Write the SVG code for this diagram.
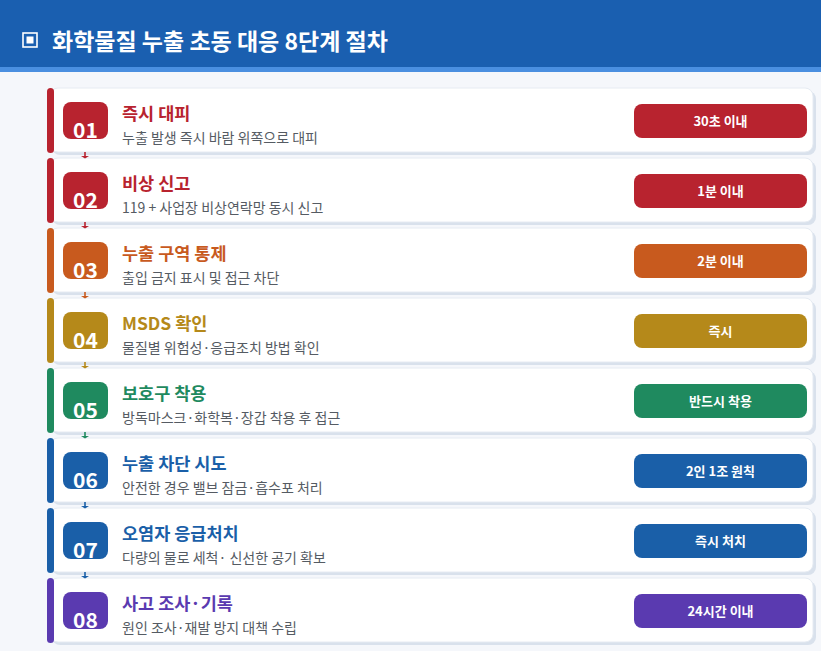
<svg xmlns="http://www.w3.org/2000/svg" width="821" height="651" viewBox="0 0 821 651">
<style>
  .bg{fill:#f5f7fb}
  .card{fill:#ffffff;stroke:#e6ebf2;stroke-width:1}
  .shadow{fill:#d9e1ec}
  .num{font-family:"Noto Sans CJK KR","Noto Sans",sans-serif;font-weight:700;font-size:21px;fill:#ffffff;text-anchor:middle}
  .ttl{font-family:"Noto Sans CJK KR","Noto Sans",sans-serif;font-weight:700;font-size:17.5px}
  .sub{font-family:"Noto Sans CJK KR","Noto Sans",sans-serif;font-size:14px;fill:#555b63}
  .pill{font-family:"Noto Sans CJK KR","Noto Sans",sans-serif;font-weight:700;font-size:13px;fill:#ffffff;text-anchor:middle}
  .hdr{font-family:"Noto Sans CJK KR","Noto Sans",sans-serif;font-weight:700;font-size:23px;fill:#ffffff}
  .cl{stroke-width:1.6}
</style>
<rect class="bg" x="0" y="0" width="821" height="651"/>
<g id="header">
  <rect x="0" y="0" width="821" height="68" fill="#1a5fb0"/>
  <rect x="0" y="67" width="821" height="5" fill="#4a8fe0"/>
  <rect x="23" y="33" width="14" height="14" fill="none" stroke="#ffffff" stroke-width="1.6"/>
  <rect x="26.5" y="36.5" width="7" height="7" fill="#ffffff"/>
  <text class="hdr" x="52" y="50">화학물질 누출 초동 대응 8단계 절차</text>
</g>
<g id="step01" transform="translate(0,88)">
  <rect class="shadow" x="52" y="3" width="764" height="64" rx="8"/>
  <rect class="card" x="50" y="0" width="763" height="64" rx="8"/>
  <rect x="47" y="0" width="7" height="65" rx="3.5" fill="#b8232f"/>
  <rect x="63" y="14" width="45" height="37" rx="8" fill="#b8232f"/>
  <text class="num" x="85.5" y="50">01</text>
  <text class="ttl" x="122" y="32" fill="#b8232f">즉시 대피</text>
  <text class="sub" x="122" y="55">누출 발생 즉시 바람 위쪽으로 대피</text>
  <rect x="634" y="16" width="173" height="34" rx="8" fill="#b8232f"/>
  <text class="pill" x="720.5" y="38">30초 이내</text>
</g>
<g id="step02" transform="translate(0,158)">
  <rect class="shadow" x="52" y="3" width="764" height="64" rx="8"/>
  <rect class="card" x="50" y="0" width="763" height="64" rx="8"/>
  <rect x="47" y="0" width="7" height="65" rx="3.5" fill="#b8232f"/>
  <rect x="63" y="14" width="45" height="37" rx="8" fill="#b8232f"/>
  <text class="num" x="85.5" y="50">02</text>
  <text class="ttl" x="122" y="32" fill="#b8232f">비상 신고</text>
  <text class="sub" x="122" y="55">119 + 사업장 비상연락망 동시 신고</text>
  <rect x="634" y="16" width="173" height="34" rx="8" fill="#b8232f"/>
  <text class="pill" x="720.5" y="38">1분 이내</text>
</g>
<g id="step03" transform="translate(0,228)">
  <rect class="shadow" x="52" y="3" width="764" height="64" rx="8"/>
  <rect class="card" x="50" y="0" width="763" height="64" rx="8"/>
  <rect x="47" y="0" width="7" height="65" rx="3.5" fill="#c85a1e"/>
  <rect x="63" y="14" width="45" height="37" rx="8" fill="#c85a1e"/>
  <text class="num" x="85.5" y="50">03</text>
  <text class="ttl" x="122" y="32" fill="#c85a1e">누출 구역 통제</text>
  <text class="sub" x="122" y="55">출입 금지 표시 및 접근 차단</text>
  <rect x="634" y="16" width="173" height="34" rx="8" fill="#c85a1e"/>
  <text class="pill" x="720.5" y="38">2분 이내</text>
</g>
<g id="step04" transform="translate(0,298)">
  <rect class="shadow" x="52" y="3" width="764" height="64" rx="8"/>
  <rect class="card" x="50" y="0" width="763" height="64" rx="8"/>
  <rect x="47" y="0" width="7" height="65" rx="3.5" fill="#b5891a"/>
  <rect x="63" y="14" width="45" height="37" rx="8" fill="#b5891a"/>
  <text class="num" x="85.5" y="50">04</text>
  <text class="ttl" x="122" y="32" fill="#b5891a">MSDS 확인</text>
  <text class="sub" x="122" y="55">물질별 위험성·응급조치 방법 확인</text>
  <rect x="634" y="16" width="173" height="34" rx="8" fill="#b5891a"/>
  <text class="pill" x="720.5" y="38">즉시</text>
</g>
<g id="step05" transform="translate(0,368)">
  <rect class="shadow" x="52" y="3" width="764" height="64" rx="8"/>
  <rect class="card" x="50" y="0" width="763" height="64" rx="8"/>
  <rect x="47" y="0" width="7" height="65" rx="3.5" fill="#1f8a5f"/>
  <rect x="63" y="14" width="45" height="37" rx="8" fill="#1f8a5f"/>
  <text class="num" x="85.5" y="50">05</text>
  <text class="ttl" x="122" y="32" fill="#1f8a5f">보호구 착용</text>
  <text class="sub" x="122" y="55">방독마스크·화학복·장갑 착용 후 접근</text>
  <rect x="634" y="16" width="173" height="34" rx="8" fill="#1f8a5f"/>
  <text class="pill" x="720.5" y="38">반드시 착용</text>
</g>
<g id="step06" transform="translate(0,438)">
  <rect class="shadow" x="52" y="3" width="764" height="64" rx="8"/>
  <rect class="card" x="50" y="0" width="763" height="64" rx="8"/>
  <rect x="47" y="0" width="7" height="65" rx="3.5" fill="#1a5fa8"/>
  <rect x="63" y="14" width="45" height="37" rx="8" fill="#1a5fa8"/>
  <text class="num" x="85.5" y="50">06</text>
  <text class="ttl" x="122" y="32" fill="#1a5fa8">누출 차단 시도</text>
  <text class="sub" x="122" y="55">안전한 경우 밸브 잠금·흡수포 처리</text>
  <rect x="634" y="16" width="173" height="34" rx="8" fill="#1a5fa8"/>
  <text class="pill" x="720.5" y="38">2인 1조 원칙</text>
</g>
<g id="step07" transform="translate(0,508)">
  <rect class="shadow" x="52" y="3" width="764" height="64" rx="8"/>
  <rect class="card" x="50" y="0" width="763" height="64" rx="8"/>
  <rect x="47" y="0" width="7" height="65" rx="3.5" fill="#1a5fa8"/>
  <rect x="63" y="14" width="45" height="37" rx="8" fill="#1a5fa8"/>
  <text class="num" x="85.5" y="50">07</text>
  <text class="ttl" x="122" y="32" fill="#1a5fa8">오염자 응급처치</text>
  <text class="sub" x="122" y="55">다량의 물로 세척· 신선한 공기 확보</text>
  <rect x="634" y="16" width="173" height="34" rx="8" fill="#1a5fa8"/>
  <text class="pill" x="720.5" y="38">즉시 처치</text>
</g>
<g id="step08" transform="translate(0,578)">
  <rect class="shadow" x="52" y="3" width="764" height="64" rx="8"/>
  <rect class="card" x="50" y="0" width="763" height="64" rx="8"/>
  <rect x="47" y="0" width="7" height="65" rx="3.5" fill="#5a3ab0"/>
  <rect x="63" y="14" width="45" height="37" rx="8" fill="#5a3ab0"/>
  <text class="num" x="85.5" y="50">08</text>
  <text class="ttl" x="122" y="32" fill="#5a3ab0">사고 조사·기록</text>
  <text class="sub" x="122" y="55">원인 조사·재발 방지 대책 수립</text>
  <rect x="634" y="16" width="173" height="34" rx="8" fill="#5a3ab0"/>
  <text class="pill" x="720.5" y="38">24시간 이내</text>
</g>
<g id="connectors">
  <line class="cl" x1="85" y1="152" x2="85" y2="157" stroke="#b8232f"/><path d="M81 156 L89 156 L85 158.5 Z" fill="#b8232f"/>
  <line class="cl" x1="85" y1="222" x2="85" y2="227" stroke="#b8232f"/><path d="M81 226 L89 226 L85 228.5 Z" fill="#b8232f"/>
  <line class="cl" x1="85" y1="292" x2="85" y2="297" stroke="#c85a1e"/><path d="M81 296 L89 296 L85 298.5 Z" fill="#c85a1e"/>
  <line class="cl" x1="85" y1="362" x2="85" y2="367" stroke="#b5891a"/><path d="M81 366 L89 366 L85 368.5 Z" fill="#b5891a"/>
  <line class="cl" x1="85" y1="432" x2="85" y2="437" stroke="#1f8a5f"/><path d="M81 436 L89 436 L85 438.5 Z" fill="#1f8a5f"/>
  <line class="cl" x1="85" y1="502" x2="85" y2="507" stroke="#1a5fa8"/><path d="M81 506 L89 506 L85 508.5 Z" fill="#1a5fa8"/>
  <line class="cl" x1="85" y1="572" x2="85" y2="577" stroke="#1a5fa8"/><path d="M81 576 L89 576 L85 578.5 Z" fill="#1a5fa8"/>
</g>
</svg>
